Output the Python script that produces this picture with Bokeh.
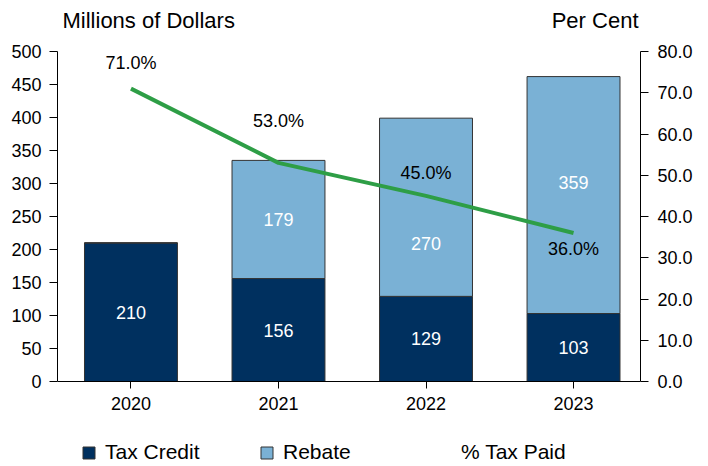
from bokeh.plotting import figure
from bokeh.models import (ColumnDataSource, LinearAxis, Range1d, Legend, LegendItem,
                          LabelSet, Label, FixedTicker, NumeralTickFormatter)
from bokeh.core.properties import value
from bokeh.embed import file_html
from bokeh.resources import INLINE

years = ["2020", "2021", "2022", "2023"]
tax_credit = [210, 156, 129, 103]
rebate = [0, 179, 270, 359]
pct_tax_paid = [71.0, 53.0, 45.0, 36.0]
left_ticks = [0, 50, 100, 150, 200, 250, 300, 350, 400, 450, 500]
right_ticks = [0, 10, 20, 30, 40, 50, 60, 70, 80]
left_max, right_max = 500, 80

FONT = "Liberation Sans"
DARK = "#00305F"
LIGHT = "#7AB1D5"
GREEN = "#2E9E46"

W, H = 708, 466
ZERO_Y = 381      # pixel row of the zero line
AXIS_H = 330      # pixel height of the 0..max axis span
below = (H - ZERO_Y) / AXIS_H
above = ZERO_Y / AXIS_H

xpos = list(range(len(years)))

p = figure(x_range=Range1d(-0.498, len(years) - 0.546),
           y_range=Range1d(-left_max * below, left_max * above),
           width=W, height=H, output_backend="svg", toolbar_location=None,
           min_border_left=57, min_border_right=68, min_border_top=0, min_border_bottom=0)
p.extra_y_ranges = {"pct": Range1d(-right_max * below, right_max * above)}
p.outline_line_color = None
p.grid.visible = False

src = ColumnDataSource(dict(x=xpos, tax_credit=tax_credit, rebate=rebate))
bars = p.vbar_stack(["tax_credit", "rebate"], x="x", width=0.63, source=src,
                    color=[DARK, LIGHT], line_color="#333333", line_width=1)

lsrc = ColumnDataSource(dict(x=xpos, pct=pct_tax_paid,
                             lbl=[f"{v:.1f}%" for v in pct_tax_paid],
                             dy=[26, 42, 23, -16]))
line = p.line(x="x", y="pct", source=lsrc, y_range_name="pct", line_color=GREEN, line_width=4)
dummy = p.line(x="x", y="pct", source=lsrc, y_range_name="pct", line_alpha=0)

p.add_layout(LabelSet(x="x", y="pct", text="lbl", source=lsrc, y_range_name="pct",
                      y_offset="dy", text_align="center", text_baseline="middle",
                      text_font=value(FONT), text_font_size="18px", text_color="black"))

# bar segment labels
seg_x, seg_y, seg_t, seg_dy = [], [], [], []
for xi, tc, rb in zip(xpos, tax_credit, rebate):
    seg_x.append(xi); seg_y.append(tc / 2); seg_t.append(str(tc)); seg_dy.append(0)
    if rb > 0:
        seg_x.append(xi); seg_y.append(tc + rb / 2); seg_t.append(str(rb))
        seg_dy.append({179: 0, 270: -36, 359: 13}.get(rb, 0))
ssrc = ColumnDataSource(dict(x=seg_x, y=seg_y, t=seg_t, dy=seg_dy))
p.add_layout(LabelSet(x="x", y="y", text="t", source=ssrc, y_offset="dy",
                      text_align="center", text_baseline="middle",
                      text_font=value(FONT), text_font_size="18px", text_color="white"))

# axes
la = p.yaxis[0]
la.ticker = FixedTicker(ticks=left_ticks)
la.bounds = (0, left_max)
ra = LinearAxis(y_range_name="pct", ticker=FixedTicker(ticks=right_ticks),
                formatter=NumeralTickFormatter(format="0.0"), bounds=(0, right_max))
p.add_layout(ra, "right")
xa = p.xaxis[0]
xa.fixed_location = 0
xa.ticker = FixedTicker(ticks=xpos)
xa.major_label_overrides = {i: y for i, y in zip(xpos, years)}

for ax in [la, ra, xa]:
    ax.major_label_text_font = FONT
    ax.major_label_text_font_size = "18px"
    ax.major_label_text_color = "black"
    ax.axis_line_color = "black"
    ax.major_tick_line_color = "black"
    ax.minor_tick_line_color = None
    ax.major_tick_in = 0
    ax.major_tick_out = 8
    ax.axis_line_width = 1
la.major_label_standoff = 8
ra.major_label_standoff = 9
xa.major_tick_out = 7
xa.major_label_standoff = 8

p.add_layout(Label(x=5, y=H - 20, x_units="screen", y_units="screen", text="Millions of Dollars",
                   text_font=FONT, text_font_size="22px", text_color="black",
                   text_baseline="middle", text_align="left"))
p.add_layout(Label(x=581, y=H - 20, x_units="screen", y_units="screen", text="Per Cent",
                   text_font=FONT, text_font_size="22px", text_color="black",
                   text_baseline="middle", text_align="right"))

leg = Legend(items=[LegendItem(label="Tax Credit", renderers=[bars[0]]),
                    LegendItem(label="Rebate", renderers=[bars[1]]),
                    LegendItem(label="% Tax Paid", renderers=[dummy])],
             orientation="horizontal", location=(24, 2), spacing=54, label_width=100,
             glyph_width=15, glyph_height=15, label_standoff=9, padding=0, margin=0,
             border_line_color=None, background_fill_alpha=0,
             label_text_font=FONT, label_text_font_size="21px", label_text_color="black")
p.add_layout(leg, "center")

open("out.html", "w").write(file_html(p, INLINE))
